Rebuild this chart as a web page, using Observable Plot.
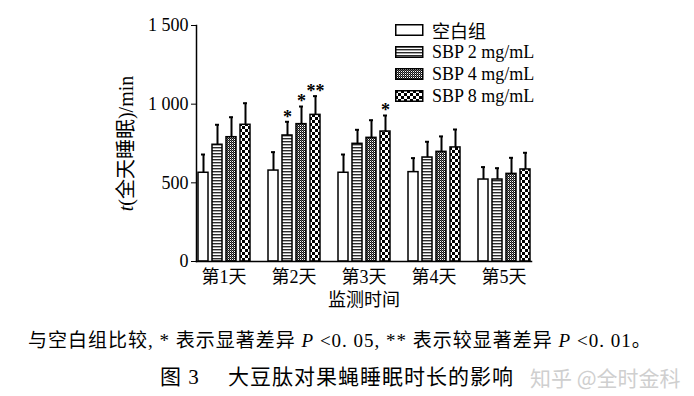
<!DOCTYPE html>
<html><head><meta charset="utf-8">
<script src="https://cdn.jsdelivr.net/npm/d3@7"></script>
<script src="https://cdn.jsdelivr.net/npm/@observablehq/plot@0.6"></script>
<style>
body{margin:0;background:#fff;}
#wrap{position:relative;width:694px;height:396px;overflow:hidden;font-family:"Liberation Serif","Noto Sans CJK SC",serif;color:#000;}
#chart{position:absolute;left:0;top:0;width:694px;}
.leg{position:absolute;left:395px;height:22px;display:flex;align-items:center;font-size:18px;white-space:nowrap;}
.leg svg{margin-right:8px;}
.cap{position:absolute;white-space:pre;line-height:1;}
</style></head><body>
<svg width="0" height="0" style="position:absolute">
<defs>
<pattern id="pHoriz" width="4" height="3" patternUnits="userSpaceOnUse"><rect width="4" height="3" fill="#fff"/><rect width="4" height="1.4" fill="#2a2a2a"/></pattern>
<pattern id="pFine" width="2" height="2" patternUnits="userSpaceOnUse"><rect width="2" height="2" fill="#fff"/><rect width="1" height="1" fill="#111"/><rect x="1" y="1" width="1" height="1" fill="#111"/><rect x="1" y="0" width="1" height="1" fill="#666"/></pattern>
<pattern id="pCheck" width="6" height="6" patternUnits="userSpaceOnUse"><rect width="6" height="6" fill="#fff"/><rect width="3" height="3" fill="#000"/><rect x="3" y="3" width="3" height="3" fill="#000"/></pattern>
</defs>
</svg>
<div id="wrap">
<div id="chart"></div>
<div id="legend"></div>
<div class="cap" style="left:28px;top:331px;font-size:19px;letter-spacing:1px;">与空白组比较, * 表示显著差异 <i>P</i> &lt;0. 05, ** 表示较显著差异 <i>P</i> &lt;0. 01。</div>
<div class="cap" style="left:160px;top:367px;font-size:21px;letter-spacing:1px;">图 3　 大豆肽对果蝇睡眠时长的影响</div>
<div class="cap" style="left:530px;top:367px;font-size:21px;color:#cfcfcf;font-family:'Noto Sans CJK SC',sans-serif;">知乎 @全时金科</div>
</div>
<script>
const days = ["第1天","第2天","第3天","第4天","第5天"];
const groups = ["空白组","SBP 2 mg/mL","SBP 4 mg/mL","SBP 8 mg/mL"];
const fills = ["#ffffff","url(#pHoriz)","url(#pFine)","url(#pCheck)"];
const blank = [564, 578, 564, 568, 521];
const sbp2  = [742, 801, 748, 661, 521];
const sbp4  = [790, 873, 786, 697, 557];
const sbp8  = [869, 932, 826, 725, 585];
const errBlank = [116, 117, 116, 89, 79];
const errSbp2  = [127, 87, 89, 100, 72];
const errSbp4  = [127, 112, 112, 98, 102];
const errSbp8  = [137, 119, 102, 114, 106];
const sigDay   = ["第2天","第2天","第2天","第3天"];
const sigGroup = ["SBP 2 mg/mL","SBP 4 mg/mL","SBP 8 mg/mL","SBP 8 mg/mL"];
const sigText  = ["*","*","**","*"];
const yTicks = [0, 500, 1000, 1500];
const yLabel = "t(全天睡眠)/min";
const xLabel = "监测时间";

const series = [blank, sbp2, sbp4, sbp8];
const errs = [errBlank, errSbp2, errSbp4, errSbp8];
const rows = [];
days.forEach((day, i) => groups.forEach((g, j) => rows.push({day, group: g, value: series[j][i], err: errs[j][i]})));
const sig = sigDay.map((d, k) => {
  const r = rows.find(r => r.day === d && r.group === sigGroup[k]);
  return {day: d, group: sigGroup[k], top: r.value + r.err, text: sigText[k]};
});
const fmt = d => d >= 1000 ? d3.format(",")(d).replace(",", " ") : String(d);

const plot = Plot.plot({
  width: 694, height: 315,
  marginLeft: 188, marginRight: 154, marginTop: 25, marginBottom: 54,
  style: {fontFamily: '"Liberation Serif","Noto Sans CJK SC",serif', fontSize: "18px", color: "#000", background: "transparent"},
  fx: {domain: days, paddingInner: 0.21, paddingOuter: 0.1},
  x: {domain: groups, paddingInner: 0.3, paddingOuter: 0, axis: null},
  y: {domain: [0, 1500]},
  color: {type: "ordinal", domain: groups, range: fills},
  marks: [
    Plot.barY(rows, {fx: "day", x: "group", y: "value", fill: "group", stroke: "#000", strokeWidth: 1.5}),
    Plot.ruleX(rows, {fx: "day", x: "group", y1: "value", y2: d => d.value + d.err, stroke: "#000", strokeWidth: 2}),
    Plot.tickY(rows, {fx: "day", x: "group", y: d => d.value + d.err, stroke: "#000", strokeWidth: 2, insetLeft: 3, insetRight: 3}),
    Plot.text(sig, {fx: "day", x: "group", y: "top", text: "text", dy: -5, fontSize: 18, fontWeight: "bold"}),
    Plot.frame({anchor: "bottom", facet: "super", stroke: "#000", strokeWidth: 1.5}),
    Plot.frame({anchor: "left", facet: "super", stroke: "#000", strokeWidth: 1.5}),
    Plot.axisY({ticks: yTicks, tickFormat: fmt, tickSize: 5, tickPadding: 3, fontSize: 18, label: null}),
    Plot.axisY({ticks: [], label: yLabel, labelAnchor: "center", labelOffset: 78, labelArrow: "none", fontSize: 20}),
    Plot.axisFx({anchor: "bottom", tickSize: 0, tickPadding: 9, fontSize: 18, label: xLabel, labelAnchor: "center", labelOffset: 44, labelArrow: "none"})
  ]
});
document.getElementById("chart").appendChild(plot);

const svg = d3.select(plot);
// italic t in y label
svg.selectAll("text").filter(function() { return this.textContent === yLabel; }).each(function() {
  const t = d3.select(this);
  t.text(null);
  t.append("tspan").attr("font-style", "italic").text("t");
  t.append("tspan").text("(全天睡眠)/min");
});

const legend = d3.select("#legend");
groups.forEach((g, i) => {
  const row = legend.append("div").attr("class", "leg").style("top", (19 + i * 22) + "px");
  const s = row.append("svg").attr("width", 29).attr("height", 12);
  s.append("rect").attr("x", 0.75).attr("y", 0.75).attr("width", 27).attr("height", 10.5)
    .attr("fill", fills[i]).attr("stroke", "#000").attr("stroke-width", 1.5);
  row.append("span").text(g);
});
</script>
</body></html>
